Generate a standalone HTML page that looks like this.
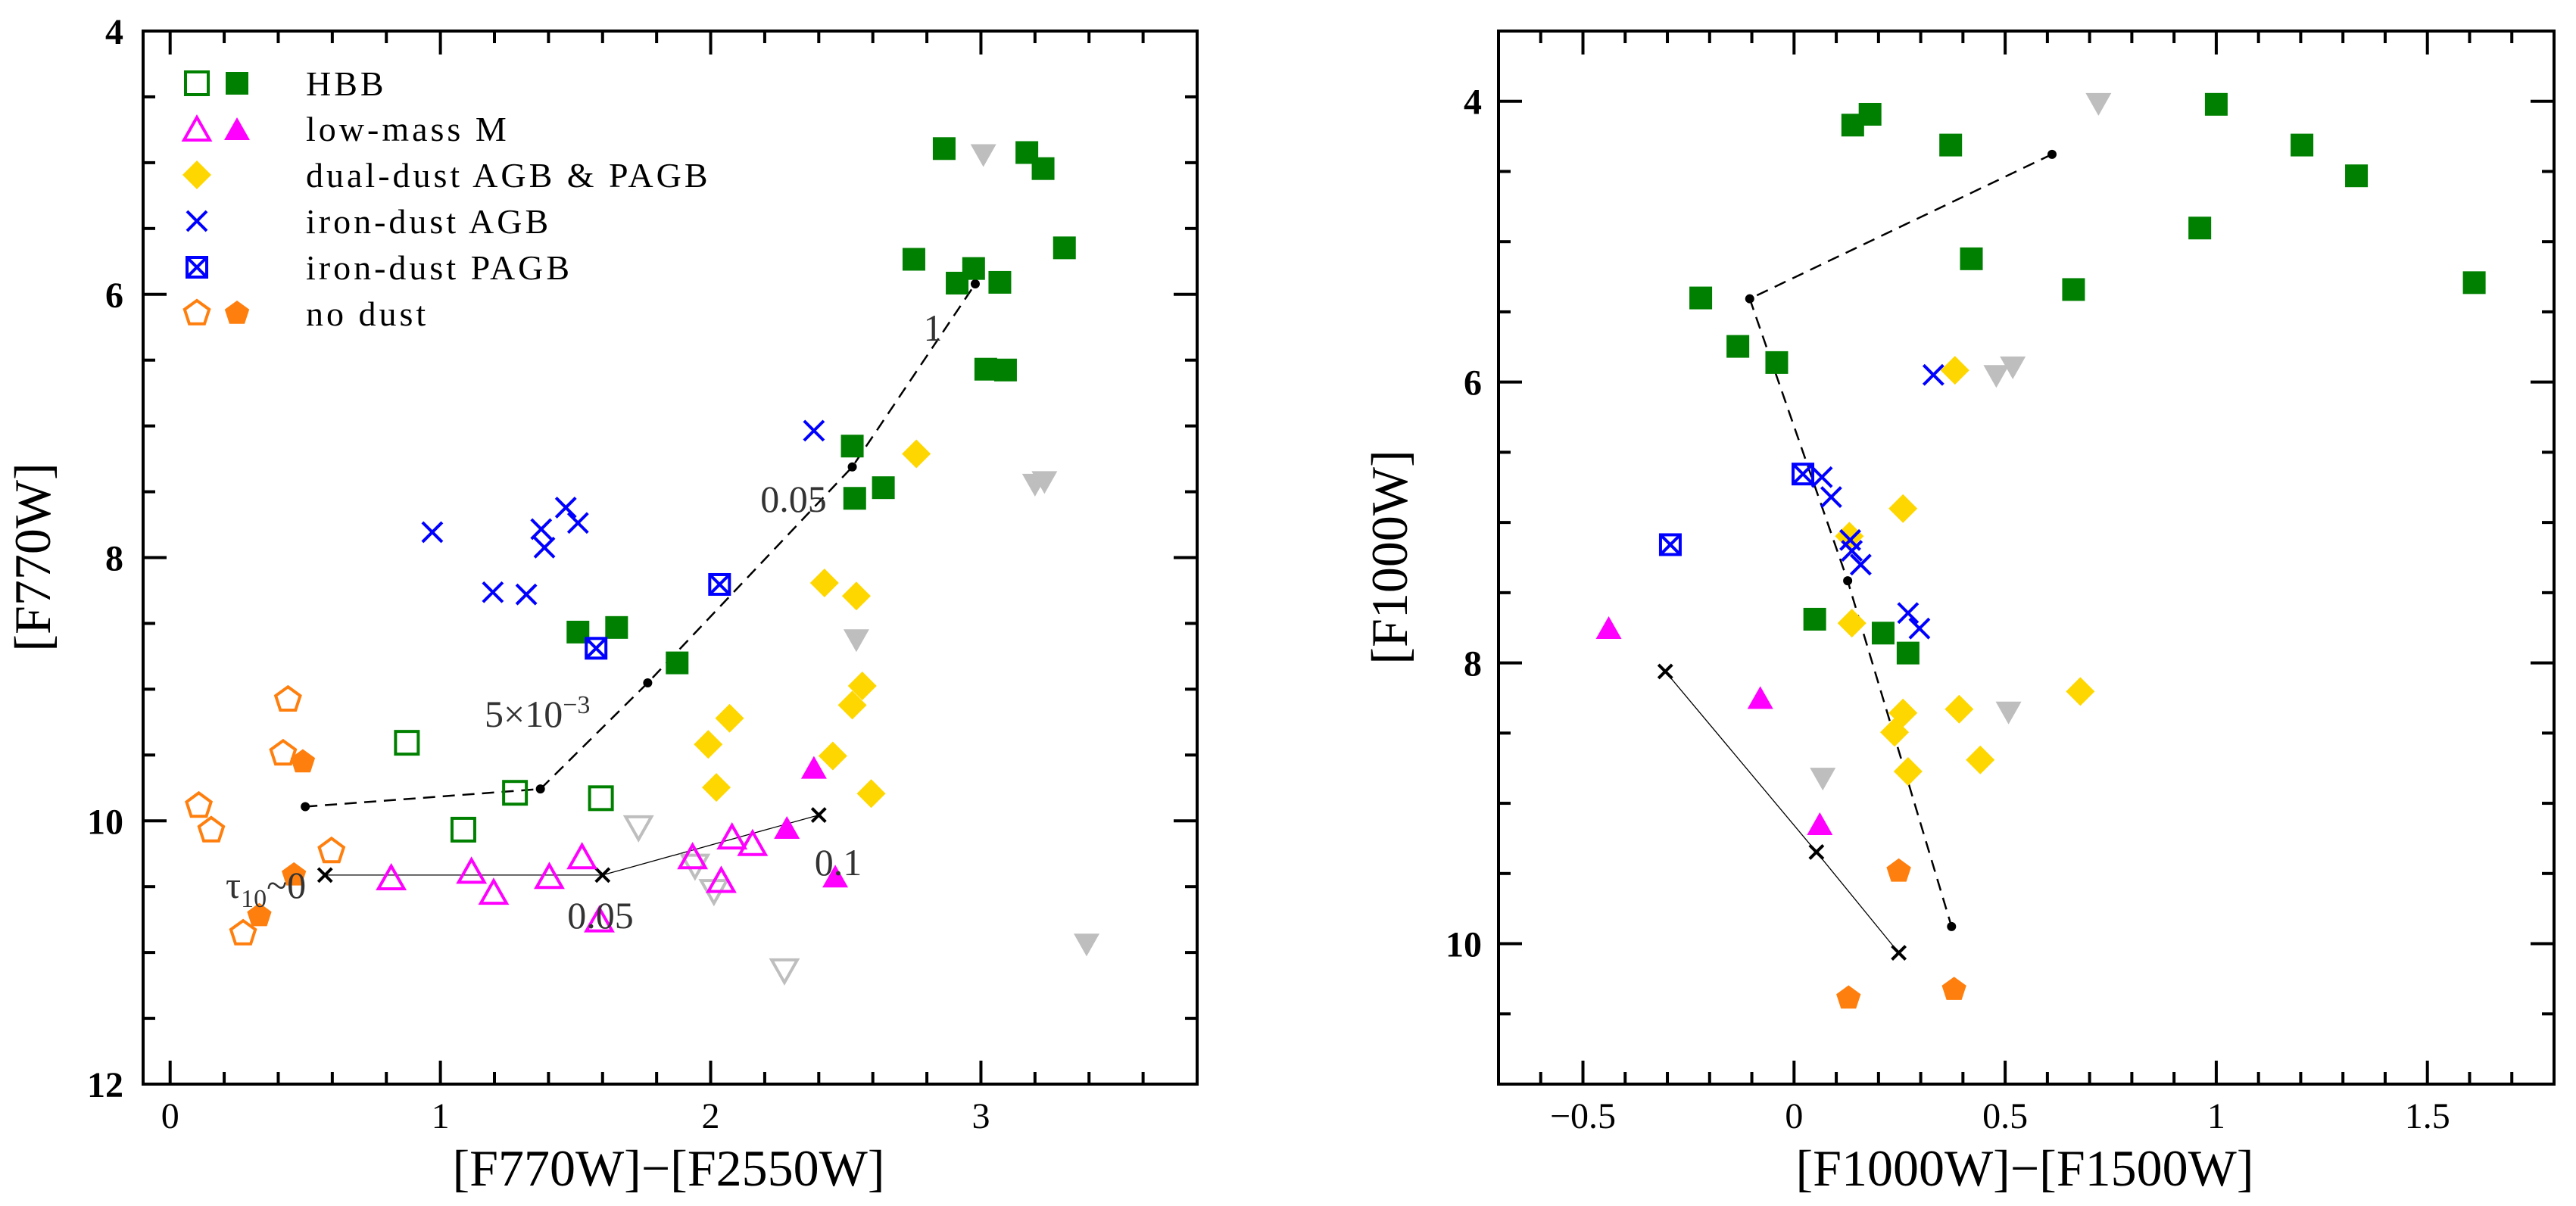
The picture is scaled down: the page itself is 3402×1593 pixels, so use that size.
<!DOCTYPE html>
<html><head><meta charset="utf-8"><style>
html,body{margin:0;padding:0;background:#fff;}
svg{display:block;font-family:"Liberation Serif",serif;}
</style></head><body>
<svg id="fig" width="3402" height="1593" viewBox="0 0 3402 1593" xmlns="http://www.w3.org/2000/svg"></svg>
<script>
// ---------- LEFT PANEL DATA ----------
const L_hbbFilled = [[2.864,4.893],[3.170,4.923],[3.230,5.045],[3.309,5.647],[2.752,5.734],[2.973,5.804],[2.912,5.915],[3.070,5.909],[3.018,6.569],[3.091,6.575],[2.524,7.153],[2.533,7.550],[2.639,7.469],[1.509,8.566],[1.652,8.531],[1.876,8.800]];
const L_hbbOpen = [[0.876,9.407],[1.276,9.787],[1.594,9.828],[1.085,10.067]];
const L_lowOpen = [[0.818,10.43],[1.115,10.38],[1.197,10.54],[1.403,10.42],[1.524,10.27],[1.588,10.75],[1.933,10.27],[2.079,10.12],[2.155,10.17],[2.039,10.45]];
const L_lowFilled = [[2.382,9.594],[2.282,10.05],[2.461,10.42]];
const L_dual = [[2.761,7.212],[2.421,8.193],[2.539,8.292],[2.561,8.975],[2.524,9.121],[2.070,9.221],[1.991,9.419],[2.452,9.507],[2.021,9.746],[2.594,9.793]];
const L_iron = [[2.382,7.036],[0.970,7.807],[1.464,7.620],[1.373,7.784],[1.509,7.737],[1.385,7.924],[1.194,8.263],[1.318,8.280]];
const L_ironP = [[2.033,8.204],[1.576,8.689]];
const L_noOpen = [[0.436,9.080],[0.418,9.489],[0.106,9.886],[0.152,10.073],[0.597,10.231],[0.270,10.856]];
const L_noFilled = [[0.491,9.553],[0.458,10.412],[0.330,10.721]];
const L_grayFilled = [[3.009,4.946],[3.200,7.45],[3.235,7.43],[2.539,8.631],[3.391,10.943]];
const L_grayOpen = [[1.733,10.055],[1.942,10.347],[2.012,10.540],[2.273,11.142]];
const L_dashed = [[0.5,9.892],[1.370,9.758],[1.767,8.952],[2.524,7.311],[2.979,5.921]];
const L_solid = [[0.573,10.412],[1.6,10.412],[2.4,9.956]];
const L_xTicks = [0,1,2,3];
const L_yTicks = [4,6,8,10,12];
// ---------- RIGHT PANEL DATA ----------
const R_hbb = [[0.139,4.170],[0.180,4.093],[0.371,4.312],[1.0,4.022],[1.203,4.312],[1.332,4.531],[0.961,4.903],[0.420,5.122],[0.662,5.341],[1.611,5.292],[-0.221,5.401],[-0.133,5.746],[-0.041,5.861],[0.049,7.689],[0.211,7.788],[0.270,7.930]];
const R_gray = [[0.721,4.022],[0.479,5.960],[0.518,5.899],[0.508,8.357],[0.068,8.828]];
const R_dual = [[0.381,5.916],[0.258,6.901],[0.131,7.098],[0.137,7.717],[0.678,8.204],[0.391,8.330],[0.258,8.357],[0.238,8.494],[0.441,8.691],[0.270,8.773]];
const R_iron = [[0.330,5.949],[0.066,6.677],[0.088,6.819],[0.133,7.125],[0.137,7.202],[0.158,7.300],[0.270,7.645],[0.297,7.755]];
const R_ironP = [[0.021,6.655],[-0.293,7.158]];
const R_low = [[-0.439,7.749],[-0.080,8.247],[0.061,9.145]];
const R_noFilled = [[0.248,9.484],[0.129,10.388],[0.379,10.327]];
const R_dashed = [[0.611,4.378],[-0.105,5.407],[0.127,7.415],[0.373,9.878]];
const R_solid = [[-0.305,8.061],[0.053,9.347],[0.248,10.065]];
const R_xTicks = [-0.5,0,0.5,1,1.5];
const R_xTickLabels = ["\u22120.5","0","0.5","1","1.5"];
const R_yTicks = [4,6,8,10];

const NS="http://www.w3.org/2000/svg";
const svg=document.getElementById('fig');
function el(tag,attrs,parent){const e=document.createElementNS(NS,tag);for(const k in attrs)e.setAttribute(k,attrs[k]);(parent||svg).appendChild(e);return e;}
const GREEN="#008000",MAG="#ff00ff",GOLD="#ffd700",BLUE="#0000ff",ORANGE="#ff7f0e",GRAY="#bebebe";

function makePanel(name,box,xr,yr){
  const g=el('g',{});
  
  
  const sx=v=>box.x0+(v-xr[0])/(xr[1]-xr[0])*(box.x1-box.x0);
  const sy=v=>box.y0+(v-yr[0])/(yr[1]-yr[0])*(box.y1-box.y0);
  return {g,sx,sy,box};
}
function frame(P,xMinor,xMajor,xr,yMinor,yMajor,yr){
  const b=P.box,g=P.g;
  const fr=el('rect',{x:b.x0,y:b.y0,width:b.x1-b.x0,height:b.y1-b.y0,fill:'none',stroke:'#000','stroke-width':4},g);
  
  
  const eps=1e-6;
  for(let v=Math.ceil(xr[0]/xMinor-eps)*xMinor;v<=xr[1]+eps;v+=xMinor){
    const maj=Math.abs(v/xMajor-Math.round(v/xMajor))<1e-4;const len=maj?31:16;const x=P.sx(v);
    el('line',{x1:x,x2:x,y1:b.y1,y2:b.y1-len,stroke:'#000','stroke-width':4},g);
    el('line',{x1:x,x2:x,y1:b.y0,y2:b.y0+len,stroke:'#000','stroke-width':4},g);
  }
  for(let v=Math.ceil(yr[0]/yMinor-eps)*yMinor;v<=yr[1]+eps;v+=yMinor){
    const maj=Math.abs(v/yMajor-Math.round(v/yMajor))<1e-4;const len=maj?31:16;const y=P.sy(v);
    el('line',{x1:b.x0,x2:b.x0+len,y1:y,y2:y,stroke:'#000','stroke-width':4},g);
    el('line',{x1:b.x1,x2:b.x1-len,y1:y,y2:y,stroke:'#000','stroke-width':4},g);
  }
}
function text(g,x,y,s,size,anchor,extra){
  const t=el('text',Object.assign({x:x,y:y,'font-size':size,'text-anchor':anchor||'middle',fill:'#000'},extra||{}),g);
  t.textContent=s;return t;
}
function sq(g,x,y,c,filled){return el('rect',{x:x-15,y:y-15,width:30,height:30,fill:filled?c:'none',stroke:c,'stroke-width':filled?0:4},g);}
function tri(g,x,y,c,filled,down){const h=30,w=34;const p=down?`${x-w/2},${y-h/2} ${x+w/2},${y-h/2} ${x},${y+h/2}`:`${x-w/2},${y+h/2} ${x+w/2},${y+h/2} ${x},${y-h/2}`;return el('polygon',{points:p,fill:filled?c:'none',stroke:c,'stroke-width':filled?0:4},g);}
function dia(g,x,y,c){return el('polygon',{points:`${x},${y-19} ${x+19},${y} ${x},${y+19} ${x-19},${y}`,fill:c},g);}
function cross(g,x,y,c,s){s=s||13;const gg=el('g',{},g);el('line',{x1:x-s,y1:y-s,x2:x+s,y2:y+s,stroke:c,'stroke-width':4},gg);el('line',{x1:x-s,y1:y+s,x2:x+s,y2:y-s,stroke:c,'stroke-width':4},gg);return gg;}
function boxX(g,x,y,c){const gg=el('g',{},g);el('rect',{x:x-13,y:y-13,width:26,height:26,fill:'none',stroke:c,'stroke-width':4},gg);cross(gg,x,y,c,13);return gg;}
function pent(g,x,y,c,filled){let p=[];for(let i=0;i<5;i++){const a=-Math.PI/2+i*2*Math.PI/5;p.push((x+17*Math.cos(a)).toFixed(1)+','+(y+17*Math.sin(a)).toFixed(1));}return el('polygon',{points:p.join(' '),fill:filled?c:'none',stroke:c,'stroke-width':filled?0:4},g);}

function series(P,arr,name,draw){
  const g=el('g',{},P.g);
  
  
  arr.forEach(d=>{const m=draw(g,P.sx(d[0]),P.sy(d[1]));
    
    });
}
function modelLine(P,arr,name,dashed,markerX){
  const g=el('g',{},P.g);
  
  
  const pts=arr.map(d=>P.sx(d[0]).toFixed(1)+','+P.sy(d[1]).toFixed(1)).join(' ');
  el('polyline',{points:pts,fill:'none',stroke:'#000','stroke-width':dashed?2.5:1.3,'stroke-dasharray':dashed?'16,10':'none'},g);
  arr.forEach(d=>{if(markerX)cross(g,P.sx(d[0]),P.sy(d[1]),'#000',9);else el('circle',{cx:P.sx(d[0]),cy:P.sy(d[1]),r:6,fill:'#000'},g);});
}

// ===== LEFT PANEL =====
const PL=makePanel('left-panel',{x0:189,x1:1581,y0:41,y1:1432},[-0.1,3.8],[4,12]);
frame(PL,0.2,1,[-0.1,3.8],0.5,2,[4,12]);
L_xTicks.forEach(v=>{const t=text(PL.g,PL.sx(v),1490,String(v),48);});
L_yTicks.forEach(v=>{const t=text(PL.g,163,PL.sy(v)+17,String(v),48,'end',{'font-weight':'bold'});});
let t=text(PL.g,883,1566,'[F770W]\u2212[F2550W]',68);
t=text(PL.g,0,0,'[F770W]',68,'middle',{transform:'translate(66,736) rotate(-90)'});

modelLine(PL,L_dashed,'dusty-model-track',true,false);
modelLine(PL,L_solid,'stellar-model-track',false,true);
series(PL,L_grayOpen,'gray-open-triangles',(g,x,y)=>tri(g,x,y,GRAY,false,true));
series(PL,L_grayFilled,'gray-filled-triangles',(g,x,y)=>tri(g,x,y,GRAY,true,true));
series(PL,L_hbbOpen,'hbb-open',(g,x,y)=>sq(g,x,y,GREEN,false));
series(PL,L_hbbFilled,'hbb-filled',(g,x,y)=>sq(g,x,y,GREEN,true));
series(PL,L_lowOpen,'low-mass-open',(g,x,y)=>tri(g,x,y,MAG,false,false));
series(PL,L_lowFilled,'low-mass-filled',(g,x,y)=>tri(g,x,y,MAG,true,false));
series(PL,L_dual,'dual-dust',(g,x,y)=>dia(g,x,y,GOLD));
series(PL,L_iron,'iron-dust-agb',(g,x,y)=>cross(g,x,y,BLUE,13));
series(PL,L_ironP,'iron-dust-pagb',(g,x,y)=>boxX(g,x,y,BLUE));
series(PL,L_noOpen,'no-dust-open',(g,x,y)=>pent(g,x,y,ORANGE,false));
series(PL,L_noFilled,'no-dust-filled',(g,x,y)=>pent(g,x,y,ORANGE,true));
[['1',1232,450],['0.05',1048,676],['0.05',793,1226],['0.1',1107,1156]].forEach(a=>{const tt=text(PL.g,a[1],a[2],a[0],50,'middle',{fill:'#333'});});
t=el('text',{x:640,y:960,'font-size':50,fill:'#333'},PL.g);t.innerHTML='5×10<tspan dy="-18" font-size="34">−3</tspan>';
t=el('text',{x:298,y:1186,'font-size':50,fill:'#333'},PL.g);t.innerHTML='τ<tspan dy="12" font-size="34">10</tspan><tspan dy="-12">~0</tspan>';

const leg=el('g',{},PL.g);


const legY=[110,170,231,292,353,414];
const legTxt=['HBB','low-mass M','dual-dust AGB & PAGB','iron-dust AGB','iron-dust PAGB','no dust'];
sq(leg,260,legY[0],GREEN,false);sq(leg,313,legY[0],GREEN,true);
tri(leg,260,legY[1],MAG,false,false);tri(leg,313,legY[1],MAG,true,false);
dia(leg,260,legY[2],GOLD);
cross(leg,260,legY[3],BLUE,13);
boxX(leg,260,legY[4],BLUE);
pent(leg,260,legY[5],ORANGE,false);pent(leg,313,legY[5],ORANGE,true);
legTxt.forEach((s,i)=>{const tt=text(leg,404,legY[i]+16,s,46,'start',{'letter-spacing':'4'});});

// ===== RIGHT PANEL =====
const PR=makePanel('right-panel',{x0:1979,x1:3373,y0:41,y1:1432},[-0.7,1.8],[3.5,11]);
frame(PR,0.1,0.5,[-0.7,1.8],0.5,2,[3.5,11]);
R_xTicks.forEach((v,i)=>{const tt=text(PR.g,PR.sx(v),1490,R_xTickLabels[i],48);});
R_yTicks.forEach(v=>{const tt=text(PR.g,1957,PR.sy(v)+17,String(v),48,'end',{'font-weight':'bold'});});
t=text(PR.g,2674,1566,'[F1000W]\u2212[F1500W]',68);
t=text(PR.g,0,0,'[F1000W]',68,'middle',{transform:'translate(1858,736) rotate(-90)'});

modelLine(PR,R_dashed,'dusty-model-track',true,false);
modelLine(PR,R_solid,'stellar-model-track',false,true);
series(PR,R_gray,'gray-filled-triangles',(g,x,y)=>tri(g,x,y,GRAY,true,true));
series(PR,R_hbb,'hbb-filled',(g,x,y)=>sq(g,x,y,GREEN,true));
series(PR,R_dual,'dual-dust',(g,x,y)=>dia(g,x,y,GOLD));
series(PR,R_iron,'iron-dust-agb',(g,x,y)=>cross(g,x,y,BLUE,13));
series(PR,R_ironP,'iron-dust-pagb',(g,x,y)=>boxX(g,x,y,BLUE));
series(PR,R_low,'low-mass-filled',(g,x,y)=>tri(g,x,y,MAG,true,false));
series(PR,R_noFilled,'no-dust-filled',(g,x,y)=>pent(g,x,y,ORANGE,true));
</script>
</body></html>
